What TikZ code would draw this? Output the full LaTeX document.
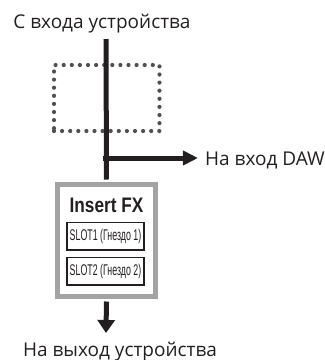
\documentclass[tikz,border=0pt]{standalone}
\usepackage{fontspec}
\setmainfont{Open Sans}
\newfontfamily\condfont[FakeStretch=0.82]{Liberation Sans}
\newfontfamily\narrowfont[FakeStretch=0.57]{Liberation Sans}
\usetikzlibrary{arrows.meta}
\definecolor{boxgray}{HTML}{A3A3A3}
\definecolor{dotgray}{HTML}{505050}
\definecolor{ink}{HTML}{231F20}
\begin{document}
\begin{tikzpicture}[x=1pt,y=-1pt,
  lbl/.style={font=\fontsize{19}{21}\selectfont, text=ink, inner sep=0pt},
  sig/.style={line width=5pt, draw=ink},
  fxbox/.style={draw=boxgray, line width=5pt, minimum width=98pt, minimum height=112pt, inner sep=0pt},
  slotbox/.style={draw=ink, line width=1.5pt, minimum width=77pt, minimum height=27.5pt, inner sep=0pt, text=ink,
    font=\narrowfont\fontsize{15.5}{17}\selectfont},
  dotbox/.style={draw=dotgray, line width=4.2pt, line cap=round, dash pattern=on 0pt off 8.1pt, minimum width=105.5pt, minimum height=66pt, inner sep=0pt}
]
\useasboundingbox (0,0) rectangle (325,360);
% labels
\node[lbl, anchor=base] (inlbl) at (102,28) {С входа устройства};
\node[lbl, anchor=base west] (dawlbl) at (205,165) {На вход DAW};
\node[lbl, anchor=base] (outlbl) at (120,356) {На выход устройства};
% dotted placeholder box
\node[dotbox] (dots) at (106.75,98) {};
% coordinates
\coordinate (top) at (106,39);
\coordinate (junc) at (106,158);
\coordinate (dawtip) at (198,158);
\coordinate (outtip) at (106,333);
% insert fx box
\node[fxbox] (fx) at (106.5,240.5) {};
\node[font=\condfont\bfseries\fontsize{21}{24}\selectfont, text=ink, inner sep=0pt] (ins) at (106.5,205) {Insert FX};
\node[slotbox] (slot1) at (105.5,236) {SLOT1 (Гнездо 1)};
\node[slotbox] (slot2) at (105.5,271) {SLOT2 (Гнездо 2)};
% signal lines
\draw[sig, shorten >=2.5pt] (top) -- (fx.north);
\draw[sig, -{Triangle[length=15pt,width=14pt]}] ([xshift=-2.5pt]junc) -- (dawtip);
\draw[sig, shorten <=2.5pt, -{Triangle[length=13pt,width=17pt]}] (fx.south) -- (outtip);
\end{tikzpicture}
\end{document}
